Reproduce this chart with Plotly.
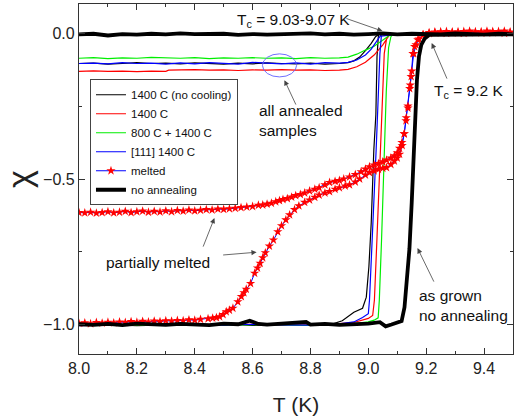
import plotly.graph_objects as go

# ---------------- data ----------------
# no annealing (thick black): ZFC branch then FC branch
T_noann_zfc = [8.00, 8.05, 8.10, 8.15, 8.20, 8.25, 8.30, 8.35, 8.40, 8.45, 8.50, 8.55, 8.59, 8.62, 8.65,
               8.70, 8.75, 8.785, 8.80, 8.85, 8.90, 8.95, 9.00, 9.04, 9.06, 9.08, 9.10, 9.115, 9.125, 9.135,
               9.142, 9.150, 9.157, 9.163, 9.168, 9.175, 9.183, 9.195, 9.21]
chi_noann_zfc = [-0.998, -1.000, -0.997, -1.001, -0.996, -0.999, -1.000, -0.997, -0.999, -1.001, -0.996,
                 -0.998, -0.986, -0.997, -0.999, -0.996, -0.993, -0.990, -0.999, -0.997, -1.000, -0.998,
                 -0.996, -0.991, -1.005, -0.999, -0.991, -0.987, -0.94, -0.83, -0.74, -0.58, -0.40, -0.25,
                 -0.16, -0.08, -0.04, -0.018, -0.006]
T_noann_fc = [9.50, 9.45, 9.40, 9.35, 9.30, 9.25, 9.21, 9.15, 9.10, 9.05, 9.00, 8.95, 8.90, 8.85, 8.80,
              8.75, 8.70, 8.65, 8.60, 8.55, 8.50, 8.45, 8.40, 8.35, 8.30, 8.25, 8.20, 8.15, 8.10, 8.05, 8.00]
chi_noann_fc = [-0.004, -0.002, -0.005, -0.003, -0.001, -0.004, -0.003, -0.002, -0.004, -0.001, -0.003,
                -0.005, -0.002, -0.004, -0.001, -0.003, -0.002, -0.005, -0.003, -0.006, -0.002, -0.004,
                -0.003, -0.001, -0.004, -0.002, -0.005, -0.003, -0.008, -0.002, -0.004]

# 1400 C (no cooling) - thin black
T_nc_zfc = [8.00, 8.10, 8.20, 8.30, 8.40, 8.50, 8.60, 8.70, 8.80, 8.88, 8.91, 8.95, 8.98, 8.993, 9.002,
            9.010, 9.019, 9.026, 9.030, 9.035, 9.05, 9.10]
chi_nc_zfc = [-1.002, -0.999, -1.003, -1.000, -1.001, -0.998, -1.002, -0.999, -1.000, -0.996, -0.986,
              -0.957, -0.943, -0.905, -0.80, -0.65, -0.40, -0.28, -0.08, -0.005, -0.002, -0.003]
T_nc_fc = [9.10, 9.05, 9.035, 9.025, 9.01, 8.99, 8.97, 8.95, 8.93, 8.90, 8.85, 8.80, 8.75, 8.70, 8.65,
           8.60, 8.55, 8.50, 8.45, 8.40, 8.35, 8.30, 8.25, 8.20, 8.15, 8.10, 8.05, 8.00]
chi_nc_fc = [-0.003, -0.002, -0.004, -0.012, -0.035, -0.060, -0.082, -0.095, -0.101, -0.104, -0.106,
             -0.103, -0.105, -0.104, -0.102, -0.105, -0.103, -0.106, -0.104, -0.102, -0.105, -0.103,
             -0.104, -0.101, -0.104, -0.106, -0.103, -0.104]

# 1400 C - red
T_r_zfc = [8.00, 8.10, 8.20, 8.30, 8.40, 8.50, 8.60, 8.70, 8.80, 8.90, 8.95, 8.98, 9.00, 9.015, 9.021,
           9.030, 9.041, 9.048, 9.055, 9.063, 9.072, 9.10]
chi_r_zfc = [-1.001, -0.998, -1.002, -0.999, -1.001, -1.000, -0.998, -1.001, -0.999, -0.996, -0.992,
             -0.985, -0.978, -0.968, -0.915, -0.70, -0.40, -0.20, -0.07, -0.02, -0.004, -0.003]
T_r_fc = [9.10, 9.075, 9.07, 9.05, 9.02, 8.99, 8.96, 8.93, 8.90, 8.85, 8.80, 8.75, 8.70, 8.65, 8.60,
          8.55, 8.50, 8.45, 8.40, 8.35, 8.31, 8.30, 8.25, 8.20, 8.15, 8.10, 8.05, 8.00]
chi_r_fc = [-0.003, -0.004, -0.010, -0.040, -0.075, -0.100, -0.115, -0.124, -0.127, -0.128, -0.126,
            -0.127, -0.125, -0.127, -0.126, -0.128, -0.126, -0.127, -0.125, -0.126, -0.127, -0.131,
            -0.130, -0.132, -0.130, -0.131, -0.129, -0.131]

# 800 C + 1400 C - green
T_g_zfc = [8.00, 8.10, 8.20, 8.30, 8.40, 8.50, 8.60, 8.70, 8.80, 8.90, 8.95, 9.00, 9.020, 9.034, 9.038,
           9.046, 9.056, 9.062, 9.070, 9.078, 9.085, 9.10]
chi_g_zfc = [-1.001, -0.999, -1.002, -1.000, -0.998, -1.001, -0.999, -1.000, -1.002, -0.998, -0.996,
             -0.990, -0.984, -0.976, -0.915, -0.70, -0.40, -0.20, -0.05, -0.012, -0.004, -0.003]
T_g_fc = [9.10, 9.08, 9.07, 9.05, 9.02, 8.99, 8.96, 8.93, 8.90, 8.85, 8.80, 8.75, 8.70, 8.65, 8.60,
          8.55, 8.50, 8.45, 8.40, 8.35, 8.30, 8.25, 8.20, 8.15, 8.10, 8.05, 8.00]
chi_g_fc = [-0.003, -0.004, -0.010, -0.025, -0.045, -0.058, -0.072, -0.082, -0.085, -0.086, -0.084,
            -0.087, -0.085, -0.086, -0.084, -0.086, -0.085, -0.087, -0.084, -0.086, -0.085, -0.083,
            -0.086, -0.085, -0.087, -0.084, -0.086]

# [111] 1400 C - blue
T_b_zfc = [8.00, 8.10, 8.20, 8.30, 8.40, 8.50, 8.60, 8.70, 8.80, 8.90, 8.95, 8.98, 9.00, 9.004, 9.012,
           9.027, 9.033, 9.040, 9.045, 9.10]
chi_b_zfc = [-1.003, -1.000, -0.998, -1.002, -0.999, -1.001, -0.998, -1.000, -1.001, -0.997, -0.990,
             -0.975, -0.962, -0.915, -0.75, -0.40, -0.25, -0.07, -0.01, -0.003]
T_b_fc = [9.10, 9.045, 9.03, 9.01, 8.99, 8.96, 8.93, 8.90, 8.85, 8.80, 8.75, 8.70, 8.65, 8.60, 8.55,
          8.50, 8.45, 8.40, 8.35, 8.30, 8.25, 8.20, 8.15, 8.10, 8.05, 8.00]
chi_b_fc = [-0.003, -0.004, -0.025, -0.055, -0.075, -0.092, -0.100, -0.103, -0.101, -0.106, -0.102,
            -0.105, -0.103, -0.100, -0.106, -0.103, -0.101, -0.105, -0.102, -0.106, -0.103, -0.104,
            -0.101, -0.105, -0.103, -0.104]

# melted - blue line with red stars
T_m_zfc = [8.00, 8.02, 8.04, 8.06, 8.08, 8.10, 8.12, 8.14, 8.16, 8.18, 8.20, 8.22, 8.24, 8.26, 8.28,
           8.30, 8.32, 8.34, 8.36, 8.38, 8.40, 8.42, 8.446, 8.462, 8.475, 8.486, 8.498, 8.509, 8.520,
           8.532, 8.549, 8.561, 8.570, 8.578, 8.593, 8.607, 8.617, 8.626, 8.635, 8.644, 8.658, 8.672,
           8.687, 8.700, 8.715, 8.728, 8.745, 8.760, 8.780, 8.797, 8.815, 8.830, 8.850, 8.866, 8.885,
           8.900, 8.920, 8.935, 8.955, 8.970, 8.990, 9.004, 9.020, 9.035, 9.050, 9.063, 9.078, 9.090,
           9.100, 9.108, 9.117, 9.124, 9.131, 9.137, 9.145, 9.148, 9.154, 9.160, 9.171, 9.188, 9.21,
           9.23, 9.25, 9.27, 9.29, 9.31, 9.33, 9.35, 9.37, 9.39, 9.41, 9.43, 9.45, 9.47, 9.49]
chi_m_zfc = [-0.995, -0.993, -0.996, -0.992, -0.994, -0.991, -0.993, -0.990, -0.992, -0.989, -0.991,
             -0.988, -0.990, -0.987, -0.989, -0.986, -0.987, -0.985, -0.986, -0.983, -0.984, -0.981,
             -0.979, -0.977, -0.975, -0.972, -0.965, -0.955, -0.950, -0.943, -0.921, -0.903, -0.890,
             -0.878, -0.858, -0.823, -0.805, -0.789, -0.770, -0.753, -0.730, -0.709, -0.681, -0.660,
             -0.640, -0.623, -0.605, -0.592, -0.580, -0.572, -0.563, -0.555, -0.548, -0.543, -0.535,
             -0.530, -0.524, -0.520, -0.510, -0.500, -0.486, -0.478, -0.472, -0.467, -0.463, -0.461,
             -0.450, -0.438, -0.428, -0.415, -0.385, -0.345, -0.290, -0.257, -0.178, -0.149, -0.070,
             -0.046, -0.023, -0.006, 0.002, 0.004, 0.001, 0.006, 0.002, 0.005, 0.000, 0.007, 0.003,
             0.005, 0.001, 0.006, 0.003, 0.007, 0.002]
T_m_fc = [9.49, 9.47, 9.45, 9.43, 9.41, 9.39, 9.37, 9.35, 9.33, 9.31, 9.29, 9.27, 9.25, 9.23, 9.21,
          9.19, 9.175, 9.165, 9.157, 9.150, 9.143, 9.137, 9.130, 9.124, 9.116, 9.108, 9.100, 9.090,
          9.078, 9.063, 9.050, 9.035, 9.020, 9.004, 8.990, 8.975, 8.955, 8.935, 8.915, 8.900, 8.885,
          8.866, 8.850, 8.830, 8.815, 8.797, 8.780, 8.765, 8.749, 8.735, 8.720, 8.705, 8.693, 8.680,
          8.665, 8.650, 8.635, 8.620, 8.600, 8.580, 8.560, 8.540, 8.520, 8.500, 8.480, 8.460, 8.440,
          8.420, 8.400, 8.380, 8.360, 8.340, 8.320, 8.300, 8.280, 8.260, 8.240, 8.220, 8.200, 8.180,
          8.160, 8.140, 8.120, 8.100, 8.080, 8.060, 8.040, 8.020, 8.000]
chi_m_fc = [0.004, 0.000, 0.006, 0.002, 0.007, 0.001, 0.005, 0.002, 0.006, 0.001, 0.004, 0.000, 0.005,
            0.002, -0.001, -0.005, -0.020, -0.040, -0.070, -0.130, -0.190, -0.250, -0.300, -0.345,
            -0.375, -0.395, -0.410, -0.420, -0.428, -0.435, -0.441, -0.447, -0.452, -0.458, -0.466,
            -0.475, -0.485, -0.493, -0.500, -0.505, -0.508, -0.512, -0.520, -0.530, -0.535, -0.541,
            -0.548, -0.553, -0.557, -0.562, -0.567, -0.570, -0.574, -0.578, -0.583, -0.586, -0.589,
            -0.590, -0.594, -0.596, -0.598, -0.600, -0.602, -0.604, -0.603, -0.606, -0.605, -0.607,
            -0.609, -0.606, -0.610, -0.608, -0.612, -0.609, -0.613, -0.611, -0.614, -0.610, -0.612,
            -0.615, -0.611, -0.614, -0.616, -0.612, -0.615, -0.617, -0.614, -0.616, -0.615]

x_ticks = [8.0, 8.2, 8.4, 8.6, 8.8, 9.0, 9.2, 9.4]
y_ticks = [-1.0, -0.5, 0.0]

# ---------------- figure ----------------
FONT = "Arial, Liberation Sans, sans-serif"
fig = go.Figure()

def add_line(name, Tz, cz, Tf, cf, color, width):
    fig.add_trace(go.Scatter(x=Tz + Tf, y=cz + cf, mode="lines", name=name,
                             line=dict(color=color, width=width)))

add_line("1400 C (no cooling)", T_nc_zfc, chi_nc_zfc, T_nc_fc, chi_nc_fc, "#000000", 1.2)
add_line("1400 C", T_r_zfc, chi_r_zfc, T_r_fc, chi_r_fc, "#ff0000", 1.2)
add_line("800 C + 1400 C", T_g_zfc, chi_g_zfc, T_g_fc, chi_g_fc, "#00ee00", 1.2)
add_line("[111] 1400 C", T_b_zfc, chi_b_zfc, T_b_fc, chi_b_fc, "#0000ff", 1.2)
fig.add_trace(go.Scatter(x=T_m_zfc + T_m_fc, y=chi_m_zfc + chi_m_fc, mode="lines+markers",
                         name="melted", line=dict(color="#0000ff", width=1),
                         marker=dict(symbol="star", size=7, color="#ff0000", line=dict(width=0))))
add_line("no annealing", T_noann_zfc, chi_noann_zfc, T_noann_fc, chi_noann_fc, "#000000", 3.8)

axis_common = dict(showline=True, linecolor="#333333", linewidth=1.3, mirror="allticks",
                   ticks="inside", ticklen=6, tickwidth=1.2, tickcolor="#333333",
                   showgrid=False, zeroline=False, tickformat=".1f", automargin=False,
                   tickfont=dict(family=FONT, size=16, color="#222222"))

fig.update_xaxes(range=[8.0, 9.5], tickvals=x_ticks,
                 minor=dict(ticks="inside", ticklen=3, tickwidth=1.2, tickcolor="#333333",
                            dtick=0.1, tick0=8.0),
                 title=dict(text="T (K)", font=dict(family=FONT, size=21, color="#222222"), standoff=27),
                 **axis_common)
fig.update_yaxes(range=[-1.1, 0.1], tickvals=y_ticks,
                 minor=dict(ticks="inside", ticklen=3, tickwidth=1.2, tickcolor="#333333",
                            dtick=0.25, tick0=0),
                 title=dict(text="χ", font=dict(family=FONT, size=34, color="#222222"), standoff=6),
                 **axis_common)

ann_font = dict(family=FONT, size=15.5, color="#111111")
texts = [
    ("T<sub>c</sub> = 9.03-9.07 K", 8.538, 0.045, "left"),
    ("T<sub>c</sub> = 9.2 K", 9.219, -0.20, "left"),
    ("all annealed<br>samples", 8.614, -0.30, "left"),
    ("partially melted", 8.088, -0.785, "left"),
    ("as grown<br>no annealing", 9.167, -0.935, "left"),
]
for txt, x, y, xa in texts:
    fig.add_annotation(x=x, y=y, text=txt, showarrow=False, xanchor=xa, yanchor="middle",
                       align="left", font=ann_font)

arrows = [  # (tip T, tip chi, tail T, tail chi)
    (9.049, 0.007, 8.919, 0.052),
    (9.219, -0.034, 9.274, -0.161),
    (8.710, -0.161, 8.752, -0.25),
    (8.468, -0.634, 8.427, -0.737),
    (8.614, -0.751, 8.493, -0.761),
    (9.170, -0.737, 9.229, -0.857),
]
for tx, ty, sx, sy in arrows:
    fig.add_annotation(x=tx, y=ty, ax=sx, ay=sy, axref="x", ayref="y", text="",
                       showarrow=True, arrowhead=2, arrowsize=1.3, arrowwidth=0.8,
                       arrowcolor="#444444", standoff=0, startstandoff=0)

fig.add_shape(type="circle", xref="x", yref="y", x0=8.634, x1=8.752, y0=-0.150, y1=-0.071,
              line=dict(color="#6060ff", width=0.9))

fig.update_layout(
    width=515, height=416,
    margin=dict(l=79, r=2, t=4, b=62),
    plot_bgcolor="white", paper_bgcolor="white",
    font=dict(family=FONT),
    legend=dict(x=0.0253, y=0.785, xanchor="left", yanchor="top",
                bgcolor="white", bordercolor="#444444", borderwidth=1,
                font=dict(family=FONT, size=11.5, color="#111111"), itemwidth=30,
                tracegroupgap=0),
    showlegend=True,
)

fig.write_html("out.html", config={"displayModeBar": False},
               post_script="document.body.style.margin='0';document.body.style.overflow='hidden';")
